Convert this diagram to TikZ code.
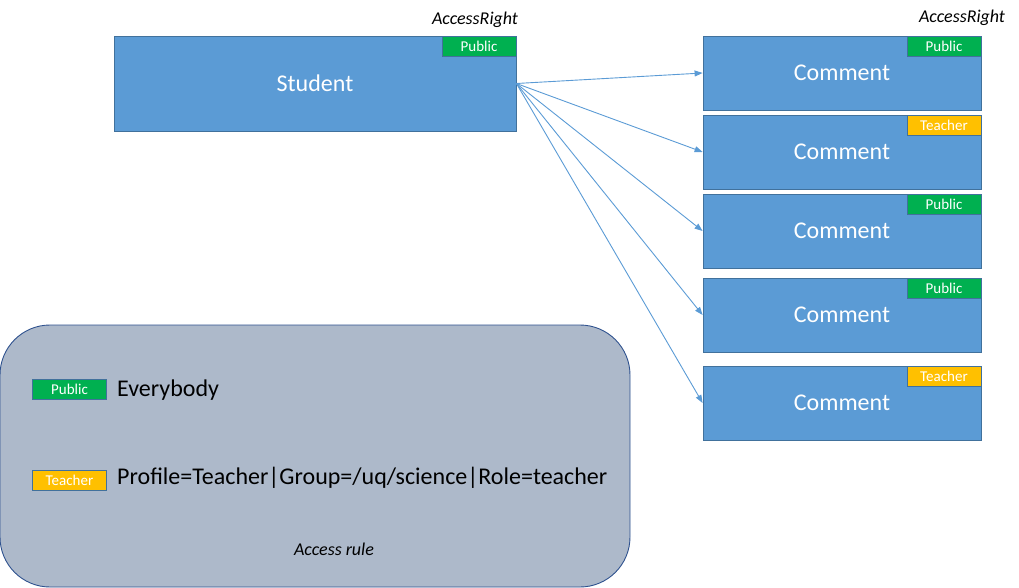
\documentclass[tikz,border=0pt]{standalone}
\usepackage{fontspec}
\setmainfont{Carlito}
\usetikzlibrary{arrows.meta}
\definecolor{boxblue}{HTML}{5B9BD5}
\definecolor{boxborder}{HTML}{41719C}
\definecolor{tagGreen}{HTML}{00B050}
\definecolor{tagYellow}{HTML}{FFC000}
\definecolor{legendfill}{HTML}{ADB9CA}
\definecolor{legendborder}{HTML}{2F528F}
\definecolor{arrowblue}{HTML}{5B9BD5}
\tikzset{
  entity/.style={draw=boxborder, fill=boxblue, line width=0.8pt, text=white, inner sep=0pt,
    font=\fontsize{24}{28}\selectfont},
  tagbox/.style={draw=boxborder, line width=0.8pt, text=white, inner sep=0pt,
    minimum width=74pt, minimum height=20pt, font=\fontsize{15}{18}\selectfont},
  pubtag/.style={tagbox, fill=tagGreen},
  teachtag/.style={tagbox, fill=tagYellow},
  link/.style={draw=arrowblue, line width=0.9pt, -{Triangle[length=8pt,width=6pt]}},
  caption/.style={font=\fontsize{18}{22}\selectfont\itshape, inner sep=0pt},
  legendtext/.style={font=\fontsize{24}{28}\selectfont, inner sep=0pt, anchor=west}
}
\begin{document}
\begin{tikzpicture}[x=1pt,y=-1pt]
\useasboundingbox (0,0) rectangle (1019,587);
% legend
\node[draw=legendborder, fill=legendfill, line width=0.9pt, rounded corners=50pt,
  minimum width=630pt, minimum height=262pt, inner sep=0pt] (legend) at (315,456) {};
\node[pubtag] (lpub) at (69.5,389) {Public};
\node[legendtext] (leverybody) at (117,390) {Everybody};
\node[teachtag] (lteach) at (69.5,480) {Teacher};
\node[legendtext] (lrule) at (117,478) {Profile=Teacher|Group=/uq/science|Role=teacher};
\node[caption] (lcap) at (334,549) {Access rule};
% student
\node[entity, minimum width=402pt, minimum height=95pt] (student) at (315,83.5) {Student};
\node[pubtag, anchor=north east] (stag) at (student.north east) {Public};
\node[caption] (sright) at (475,20) {AccessRight};
% comments
\node[entity, minimum width=278pt, minimum height=74pt] (c1) at (842,73) {Comment};
\node[entity, minimum width=278pt, minimum height=74pt] (c2) at (842,152) {Comment};
\node[entity, minimum width=278pt, minimum height=74pt] (c3) at (842,231) {Comment};
\node[entity, minimum width=278pt, minimum height=74pt] (c4) at (842,315) {Comment};
\node[entity, minimum width=278pt, minimum height=74pt] (c5) at (842,403) {Comment};
\node[pubtag, anchor=north east] (t1) at (c1.north east) {Public};
\node[teachtag, anchor=north east] (t2) at (c2.north east) {Teacher};
\node[pubtag, anchor=north east] (t3) at (c3.north east) {Public};
\node[pubtag, anchor=north east] (t4) at (c4.north east) {Public};
\node[teachtag, anchor=north east] (t5) at (c5.north east) {Teacher};
\node[caption] (cright) at (962,18) {AccessRight};
% links
\foreach \c in {c1,c2,c3,c4,c5}
  \draw[link] (student.east) -- (\c.west);
\end{tikzpicture}
\end{document}
